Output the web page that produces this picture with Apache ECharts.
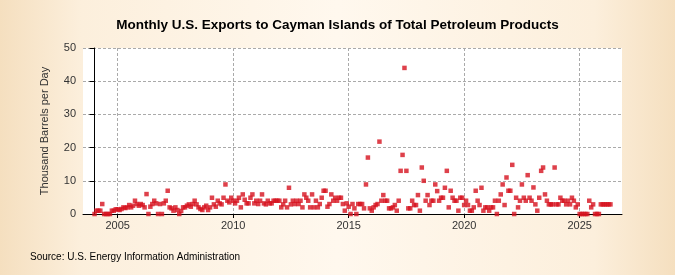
<!DOCTYPE html>
<html>
<head>
<meta charset="utf-8">
<script src="https://cdn.jsdelivr.net/npm/echarts@6/dist/echarts.min.js"></script>
<style>
html,body{margin:0;padding:0;}
#c{width:675px;height:275px;background:linear-gradient(to right,#f5dfbf 0%,#fcefdc 12%,#fff8ee 50%,#fcefdc 88%,#f5dfbf 100%);}
</style>
</head>
<body>
<div id="c"></div>
<script>
const startYear = 2004;
const y2004 = [0, 1, 1, 1, 3, 0, 0, 0, 0, 1, 1, 1.4];
const y2005 = [1.4, 1.2, 1.5, 2, 1.8, 2, 2.7, 2, 2.5, 4, 3, 2.5];
const y2006 = [3, 2.7, 2, 6, 0, 2.2, 3, 4, 3.2, 0, 3, 0];
const y2007 = [3.2, 4, 7, 2, 1.7, 1, 2, 1.2, 0, 0.9, 2, 2];
const y2008 = [2.5, 2.9, 2.2, 3, 4, 2.9, 2, 1.5, 1.2, 2, 2.5, 1.2];
const y2009 = [2, 4.9, 2.9, 2.2, 4, 3.2, 2.9, 4.9, 8.9, 4, 3.5, 4.9];
const y2010 = [4, 3.2, 4, 4.9, 2, 5.9, 4.3, 3.2, 3.2, 4.9, 5.9, 3.2];
const y2011 = [4, 3, 4, 5.9, 3.2, 2.9, 4, 3.2, 3.2, 4, 4, 4];
const y2012 = [4, 2, 2.9, 4, 2, 7.9, 2.9, 4, 3, 4, 3, 4];
const y2013 = [2, 5.9, 4.9, 4, 2, 5.9, 2, 4, 2, 3, 4.9, 7];
const y2014 = [7, 2.2, 3, 5.9, 4, 4.9, 4, 4.9, 4.9, 3, 1, 3.2];
const y2015 = [2.2, 0, 3, 1.7, 0, 3, 3, 3, 1.7, 8.9, 17, 1.7];
const y2016 = [1, 2, 2.7, 3, 21.8, 4, 5.7, 4, 4, 1.7, 1.7, 2];
const y2017 = [2.7, 1, 4, 13, 17.8, 44, 13, 1.7, 1.7, 4, 2.7, 2.7];
const y2018 = [5.7, 1, 14, 10, 4, 5.7, 2.7, 4, 4, 8.9, 6.9, 4];
const y2019 = [4.9, 4.9, 7.9, 13, 2, 7, 4.9, 4, 4, 1, 4.9, 4.9];
const y2020 = [2.7, 4, 2.7, 1, 1, 2, 7, 4, 2.7, 7.9, 1, 2];
const y2021 = [2, 1, 2, 2, 4, 0, 4, 5.9, 8.9, 2.7, 11, 7];
const y2022 = [7, 14.8, 0, 4.9, 2, 4, 8.9, 4.9, 4, 11.7, 4.9, 4];
const y2023 = [8, 2.9, 1, 4.9, 13, 14, 5.9, 4, 2.9, 2.9, 2.9, 14];
const y2024 = [2.9, 2.9, 4.9, 4, 4, 2.9, 4, 2.9, 4.9, 4, 2, 2.9];
const y2025 = [0, 0, 0, 0, 0, 4, 2, 2.9, 0, 0, 0, 2.9];
const y2026 = [2.9, 2.9, 2.9, 2.9, 2.9];
const tickYears = [2005, 2010, 2015, 2020, 2025];

const years = [y2004,y2005,y2006,y2007,y2008,y2009,y2010,y2011,y2012,y2013,y2014,y2015,
  y2016,y2017,y2018,y2019,y2020,y2021,y2022,y2023,y2024,y2025,y2026];
const data = [];
years.forEach((arr, yi) => arr.forEach((v, mi) => data.push([yi * 12 + mi, v])));
const tickVals = tickYears.map(y => (y - startYear) * 12);

const chart = echarts.init(document.getElementById('c'), null, {renderer: 'canvas'});
const font = '"Liberation Sans", Arial, sans-serif';
chart.setOption({
  backgroundColor: 'transparent',
  animation: false,
  title: {
    text: 'Monthly U.S. Exports to Cayman Islands of Total Petroleum Products',
    left: 'center', top: 13,
    textStyle: {fontFamily: font, fontSize: 13.5, fontWeight: 'bold', color: '#000'}
  },
  graphic: [{
    type: 'text', left: 30, top: 252,
    style: {text: 'Source: U.S. Energy Information Administration', font: '10px ' + font, fill: '#000'}
  }],
  grid: {left: 83, right: 53, top: 48, bottom: 61, show: true, backgroundColor: '#fff', borderWidth: 0},
  xAxis: {
    type: 'value', min: -6, max: 274,
    axisLine: {show: true, onZero: false, lineStyle: {color: '#000', width: 1}},
    axisTick: {show: true, customValues: tickVals, length: 4, lineStyle: {color: '#000'}},
    axisLabel: {customValues: tickVals, formatter: v => String(startYear + Math.round(v / 12)),
      fontFamily: font, fontSize: 11, color: '#333', margin: 6},
    splitLine: {show: true, lineStyle: {color: '#aaa', type: [3, 2]}}
  },
  yAxis: {
    type: 'value', min: 0, max: 50, interval: 10,
    name: 'Thousand Barrels per Day', nameLocation: 'middle', nameGap: 33,
    nameTextStyle: {fontFamily: font, fontSize: 11, color: '#333'},
    axisLine: {show: true, lineStyle: {color: '#000', width: 1}},
    axisTick: {show: true, length: 5, lineStyle: {color: '#000'}},
    axisLabel: {fontFamily: font, fontSize: 11, color: '#333', margin: 7},
    splitLine: {show: true, lineStyle: {color: '#aaa', type: [3, 2]}}
  },
  series: [{
    type: 'scatter', data: data, symbol: 'rect', symbolSize: 4.5,
    itemStyle: {color: '#d6121e'}, clip: false
  }]
});
</script>
</body>
</html>
